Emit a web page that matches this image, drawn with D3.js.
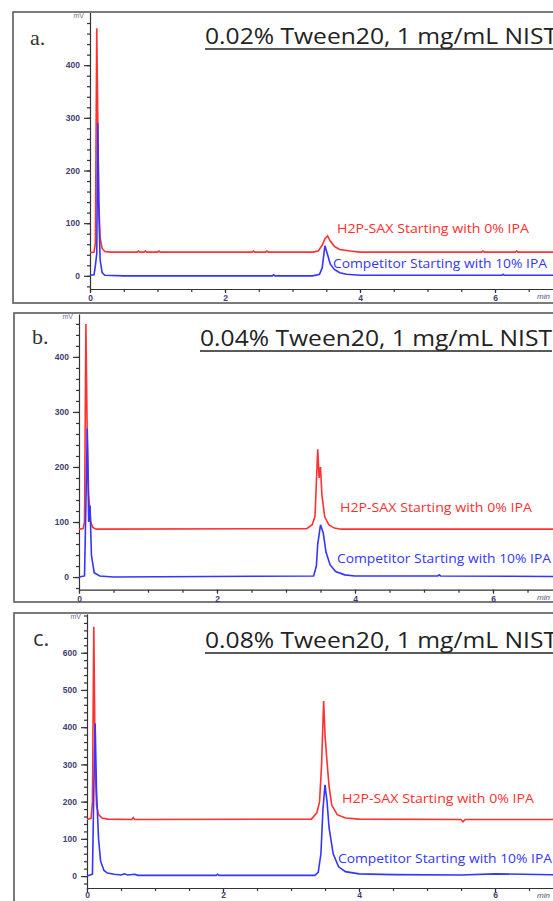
<!DOCTYPE html>
<html>
<head>
<meta charset="utf-8">
<script src="https://cdn.jsdelivr.net/npm/d3@7"></script>
<style>
  body { margin: 0; background: #fff; }
  svg { display: block; }
</style>
</head>
<body>
<svg id="chart" width="553" height="901"></svg>
<script>
// panel text
const panelTags = ['a.', 'b.', 'c.'];
const panelTitles = [
  '0.02% Tween20, 1 mg/mL NIST',
  '0.04% Tween20, 1 mg/mL NIST',
  '0.08% Tween20, 1 mg/mL NIST'
];
const redLabel = 'H2P-SAX Starting with 0% IPA';
const blueLabel = 'Competitor Starting with 10% IPA';

// axis extents (mV) and ticks
const yDomains = [[-25, 500], [-23, 478], [-32, 704]];
const yTickSets = [
  [0, 100, 200, 300, 400],
  [0, 100, 200, 300, 400],
  [0, 100, 200, 300, 400, 500, 600]
];
const xDomain = [0, 7];
const xTickLabels = [0, 2, 4, 6];

// traces: [time (min), signal (mV)]
const aRed = [[0,44],[0.06,45],[0.08,62],[0.1,470],[0.115,300],[0.13,140],[0.15,72],[0.18,52],[0.22,46],[0.3,45],
  [0.7,45],[0.72,47],[0.74,45],[0.8,45],[0.82,47],[0.84,45],[1.0,45],[1.02,47],[1.04,45],[2.4,45],[2.42,47],[2.44,45],
  [2.6,45],[2.62,47],[2.64,45],[3.3,45],[3.38,47],[3.44,58],[3.48,70],[3.52,76],[3.56,66],[3.62,56],[3.7,50],
  [3.85,47],[4.0,45],[5.8,45],[5.82,47],[5.84,45],[6.3,45],[6.32,47],[6.34,45],[7,45]];
const aBlue = [[0,1],[0.06,2],[0.08,20],[0.1,42],[0.115,290],[0.13,130],[0.15,30],[0.18,6],[0.22,1],[0.5,0],
  [2.7,0],[2.72,2],[2.74,0],[3.3,0],[3.4,3],[3.44,15],[3.48,57],[3.52,40],[3.56,22],[3.62,12],[3.7,6],[3.8,3],
  [4.0,1],[6.1,1],[6.12,3],[6.14,1],[7,1]];

const bRed = [[0,87],[0.06,88],[0.08,100],[0.1,460],[0.12,250],[0.14,150],[0.17,100],[0.2,90],[0.25,87],
  [3.3,88],[3.38,95],[3.42,110],[3.46,232],[3.48,180],[3.5,200],[3.52,150],[3.56,110],[3.62,95],[3.7,89],
  [3.8,87],[7,87]];
const bBlue = [[0,0],[0.08,2],[0.1,130],[0.12,270],[0.14,100],[0.16,130],[0.18,40],[0.22,8],[0.3,2],[0.5,0],
  [3.4,2],[3.44,20],[3.46,60],[3.5,95],[3.54,80],[3.58,45],[3.64,22],[3.72,10],[3.85,4],[4.0,2],[5.2,2],
  [5.22,4],[5.24,2],[7,1]];

const cRed = [[0,152],[0.06,155],[0.08,200],[0.1,670],[0.12,300],[0.14,190],[0.17,165],[0.22,156],[0.3,153],
  [0.66,152],[0.68,157],[0.7,152],[3.3,153],[3.38,170],[3.42,200],[3.45,300],[3.48,470],[3.5,380],[3.52,330],
  [3.56,240],[3.6,190],[3.68,165],[3.8,156],[4.0,153],[5.5,152],[5.53,146],[5.56,152],[7,152]];
const cBlue = [[0,0],[0.08,5],[0.1,230],[0.12,410],[0.14,230],[0.17,100],[0.2,40],[0.25,15],[0.3,8],[0.4,5],
  [0.5,3],[0.55,6],[0.6,3],[0.7,5],[0.75,2],[1.9,2],[1.92,5],[1.94,2],[3.35,2],[3.4,10],[3.44,60],[3.47,180],
  [3.5,245],[3.53,200],[3.56,130],[3.62,60],[3.7,25],[3.8,12],[4.0,6],[4.5,4],[5.5,3],[6,6],[7,3]];

const redSeries = [aRed, bRed, cRed];
const blueSeries = [aBlue, bBlue, cBlue];

// pixel layout of the three stacked panels
const layout = [
  { frame: [13, 12, 580, 291], x0: 90, xPx: 67.5, yRange: [289, 12.5], tag: [30, 45, 'serif'], title: [205, 44],
    redLab: [337, 233], blueLab: [333, 268], pad: 2 },
  { frame: [14, 313, 580, 289], x0: 79, xPx: 69, yRange: [589.7, 314], tag: [32, 344, 'serif'], title: [200, 346],
    redLab: [340, 512], blueLab: [337, 563], pad: 2 },
  { frame: [14, 613, 580, 300], x0: 87, xPx: 68, yRange: [888, 614], tag: [33, 646, 'sans'], title: [205, 648],
    redLab: [342, 803], blueLab: [338, 863], pad: 0 }
];

const svg = d3.select('#chart');

layout.forEach((L, i) => {
  const g = svg.append('g');

  g.append('rect')
    .attr('x', L.frame[0])
    .attr('y', L.frame[1])
    .attr('width', L.frame[2])
    .attr('height', L.frame[3])
    .attr('fill', '#fff')
    .attr('stroke', '#5a5a5a')
    .attr('stroke-width', 1.6);

  const xScale = d3.scaleLinear()
    .domain(xDomain)
    .range([L.x0, L.x0 + (xDomain[1] - xDomain[0]) * L.xPx]);

  const yScale = d3.scaleLinear()
    .domain(yDomains[i])
    .range(L.yRange);

  // y axis: minor ticks every 20 mV, labelled ticks every 100
  const yMinor = d3.range(Math.ceil(yDomains[i][0] / 20) * 20, yDomains[i][1], 20);
  g.append('g')
    .attr('transform', `translate(${L.x0},0)`)
    .call(d3.axisLeft(yScale).tickValues(yMinor).tickSize(3).tickFormat(''))
    .call((a) => a.select('.domain').remove());
  g.append('g')
    .attr('class', 'y-axis')
    .attr('transform', `translate(${L.x0},0)`)
    .call(d3.axisLeft(yScale).tickValues(yTickSets[i]).tickSize(6).tickSizeOuter(0).tickPadding(4));

  // x axis
  const xMinor = d3.range(0.5, xDomain[1] + 0.01, 0.5);
  g.append('g')
    .attr('transform', `translate(0,${L.yRange[0]})`)
    .call(d3.axisBottom(xScale).tickValues(xMinor).tickSize(3).tickFormat(''));
  g.append('g')
    .attr('class', 'x-axis')
    .attr('transform', `translate(0,${L.yRange[0]})`)
    .call(d3.axisBottom(xScale).tickValues(xTickLabels).tickFormat(d3.format('d'))
      .tickSize(4).tickSizeOuter(0).tickPadding(L.pad))
    .call((a) => a.select('.domain').remove());

  g.selectAll('.tick text')
    .style('font-family', 'Liberation Sans, Arial, sans-serif')
    .style('font-size', '8.5px')
    .style('font-weight', 'bold')
    .style('fill', '#40406e');
  g.selectAll('.domain, .tick line').attr('stroke', '#333').attr('stroke-width', 1.2);

  g.append('text')
    .attr('x', L.x0 - 6)
    .attr('y', L.yRange[1] + 5)
    .attr('text-anchor', 'end')
    .style('font-family', 'Liberation Sans, Arial, sans-serif')
    .style('font-size', '7px')
    .style('fill', '#707090')
    .text('mV');

  g.append('text')
    .attr('x', 537)
    .attr('y', L.yRange[0] + 10)
    .style('font-family', 'Liberation Sans, Arial, sans-serif')
    .style('font-size', '8px')
    .style('font-style', 'italic')
    .style('fill', '#505080')
    .text('min');

  // traces
  const line = d3.line()
    .x((d) => xScale(d[0]))
    .y((d) => yScale(d[1]));

  g.append('path')
    .datum(redSeries[i])
    .attr('fill', 'none')
    .attr('stroke', '#ff3030')
    .attr('stroke-width', 1.6)
    .attr('d', line);

  g.append('path')
    .datum(blueSeries[i])
    .attr('fill', 'none')
    .attr('stroke', '#3535ff')
    .attr('stroke-width', 1.6)
    .attr('d', line);

  // panel letter
  g.append('text')
    .attr('x', L.tag[0])
    .attr('y', L.tag[1])
    .style('font-family', L.tag[2] === 'serif' ? 'Liberation Serif, Times New Roman, serif' : 'Open Sans, sans-serif')
    .style('font-size', '22px')
    .style('fill', '#333')
    .text(panelTags[i]);

  // underlined title
  g.append('text')
    .attr('x', L.title[0])
    .attr('y', L.title[1])
    .attr('textLength', 352)
    .attr('lengthAdjust', 'spacingAndGlyphs')
    .style('font-family', 'Open Sans, sans-serif')
    .style('font-size', '21px')
    .style('fill', '#222')
    .text(panelTitles[i]);
  g.append('line')
    .attr('x1', L.title[0])
    .attr('x2', L.title[0] + 352)
    .attr('y1', L.title[1] + 5)
    .attr('y2', L.title[1] + 5)
    .attr('stroke', '#222')
    .attr('stroke-width', 1.4);

  // series labels
  g.append('text')
    .attr('x', L.redLab[0])
    .attr('y', L.redLab[1])
    .attr('textLength', 192)
    .attr('lengthAdjust', 'spacingAndGlyphs')
    .style('font-family', 'Open Sans, sans-serif')
    .style('font-size', '12px')
    .style('fill', '#ff3030')
    .text(redLabel);

  g.append('text')
    .attr('x', L.blueLab[0])
    .attr('y', L.blueLab[1])
    .attr('textLength', 214)
    .attr('lengthAdjust', 'spacingAndGlyphs')
    .style('font-family', 'Open Sans, sans-serif')
    .style('font-size', '12px')
    .style('fill', '#3535ff')
    .text(blueLabel);
});
</script>
</body>
</html>
